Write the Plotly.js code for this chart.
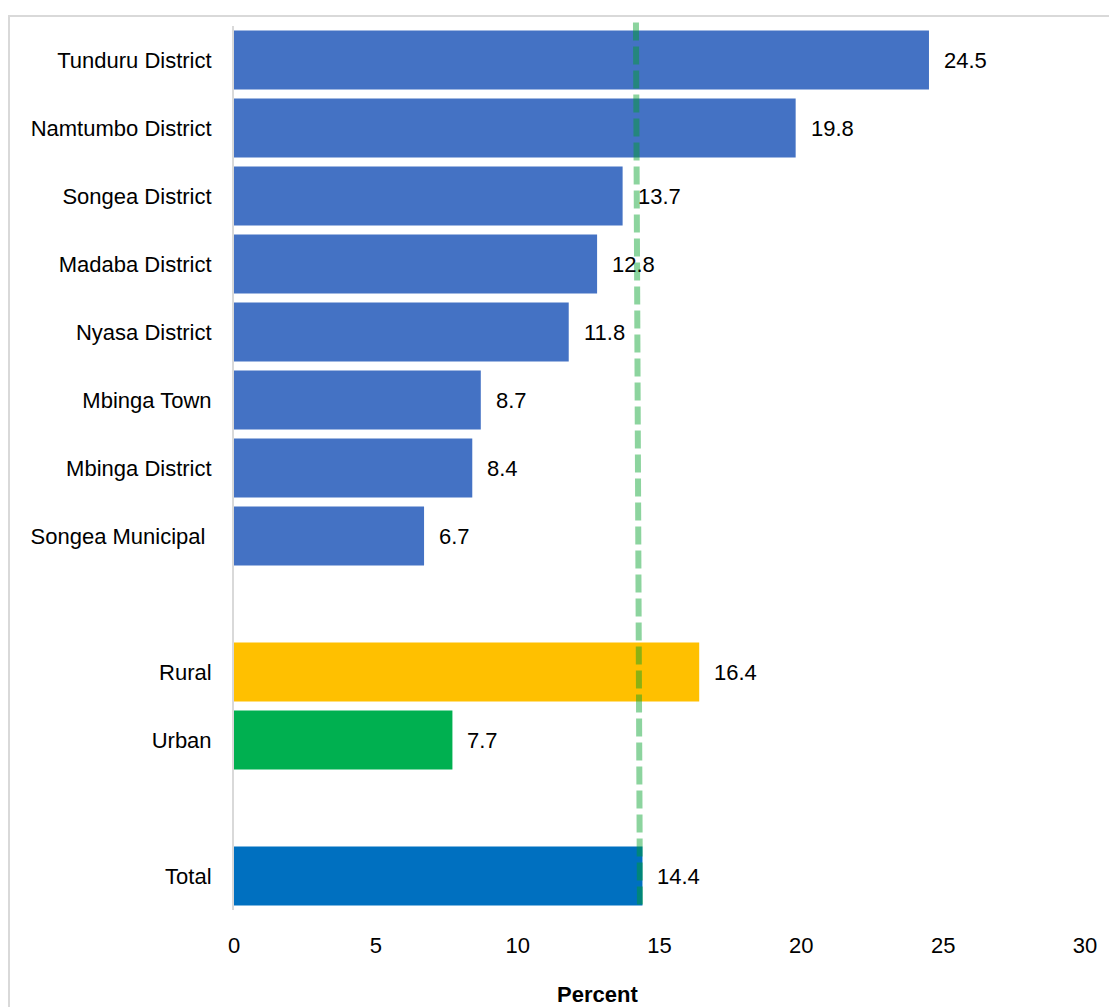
<!DOCTYPE html>
<html>
<head>
<meta charset="utf-8">
<script src="https://cdn.plot.ly/plotly-3.0.1.min.js"></script>
<style>
  html, body { margin: 0; padding: 0; background: #fff; }
  #chart { width: 1109px; height: 1007px; }
</style>
</head>
<body>
<div id="chart"></div>
<script>
// ---- Data ----
const categories = [
  "Tunduru District", "Namtumbo District", "Songea District", "Madaba District",
  "Nyasa District", "Mbinga Town", "Mbinga District", "Songea Municipal\u00a0",
  " ", "Rural", "Urban", "  ", "Total"
];
const values = [24.5, 19.8, 13.7, 12.8, 11.8, 8.7, 8.4, 6.7, null, 16.4, 7.7, null, 14.4];
const groups = ["district", "district", "district", "district", "district", "district", "district", "district",
                "gap", "rural", "urban", "gap", "total"];
const xTickVals = [0, 5, 10, 15, 20, 25, 30];
const refLineX = [14.17, 14.31]; // dashed reference line (top, bottom)

// ---- Styles ----
const groupColors = { district: "#4472C4", rural: "#FFC000", urban: "#00B050", total: "#0070C0", gap: "rgba(0,0,0,0)" };
const FONT = "'Liberation Sans', Arial, sans-serif";
const FS = 22;

const trace = {
  type: "bar",
  orientation: "h",
  y: categories,
  x: values,
  marker: { color: groups.map(g => groupColors[g]) },
  hoverinfo: "x+y",
  showlegend: false
};

const annotations = [];
categories.forEach((c, i) => {
  if (values[i] === null) return;
  annotations.push({
    x: values[i], y: c, xref: "x", yref: "y",
    text: values[i].toFixed(1),
    showarrow: false, xanchor: "left", yanchor: "middle",
    xshift: 13,
    font: { family: FONT, size: FS, color: "#000" }
  });
});
annotations.push({
  x: 0.427, y: -0.096, xref: "paper", yref: "paper",
  text: "<b>Percent</b>", showarrow: false,
  xanchor: "center", yanchor: "middle",
  font: { family: FONT, size: FS, color: "#000" }
});

const layout = {
  width: 1109, height: 1007,
  margin: { l: 234, r: 24, t: 26, b: 97 },
  paper_bgcolor: "#fff", plot_bgcolor: "#fff",
  bargap: 0.13,
  font: { family: FONT, size: FS, color: "#000" },
  xaxis: {
    range: [0, 30], tickvals: xTickVals, ticks: "", showgrid: false, zeroline: false,
    showline: false, ticklabelstandoff: 20,
    tickfont: { family: FONT, size: FS, color: "#000" },
    fixedrange: true
  },
  yaxis: {
    type: "category", categoryorder: "array", categoryarray: categories,
    autorange: "reversed", ticks: "", showgrid: false, zeroline: false,
    showline: true, linecolor: "#d9d9d9", linewidth: 2,
    ticklabelstandoff: 16,
    tickfont: { family: FONT, size: FS, color: "#000" },
    fixedrange: true
  },
  shapes: [
    {
      type: "rect", xref: "paper", yref: "paper",
      x0: -0.2644, x1: 1.04, y0: -0.12, y1: 1.0113,
      line: { color: "#d9d9d9", width: 2 }, fillcolor: "rgba(0,0,0,0)", layer: "below"
    },
    {
      type: "line", xref: "x", yref: "paper",
      x0: refLineX[0], x1: refLineX[1], y0: 1.004, y1: 0.006,
      line: { color: "rgba(0,160,40,0.45)", width: 6, dash: "18px,6px" },
      layer: "above"
    }
  ],
  annotations: annotations
};

Plotly.newPlot("chart", [trace], layout, { displayModeBar: false, staticPlot: true });
</script>
</body>
</html>
